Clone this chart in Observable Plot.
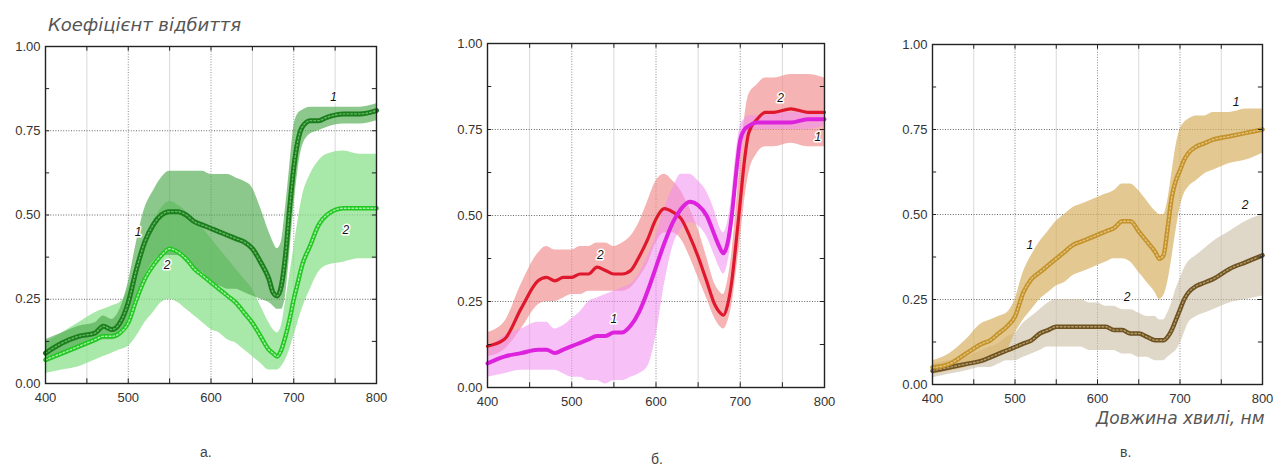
<!DOCTYPE html>
<html><head><meta charset="utf-8">
<script src="https://cdn.jsdelivr.net/npm/d3@7"></script>
<script src="https://cdn.jsdelivr.net/npm/@observablehq/plot@0.6"></script>
<style>
body{margin:0;background:#fff;}
#wrap{position:relative;width:1284px;height:467px;overflow:hidden;background:#fff;font-family:"Liberation Sans",Arial,sans-serif;}
.panel{position:absolute;top:0;}
.lbl{position:absolute;color:#444;white-space:nowrap;line-height:1;}
.ttl{font-family:"DejaVu Sans",sans-serif;font-style:italic;color:#555;}
</style></head><body><div id="wrap"></div>
<script>
// wavelength grid (nm)
const wl = [400,420,440,460,470,480,490,500,510,520,530,540,550,560,570,580,590,600,610,620,630,640,650,660,670,675,680,685,690,695,700,705,710,720,730,740,760,780,800];

// panel а
const a1Mean = [.09,.12,.14,.15,.17,.16,.18,.24,.34,.42,.47,.50,.51,.51,.50,.48,.47,.46,.45,.44,.43,.42,.40,.36,.31,.27,.26,.29,.38,.52,.64,.72,.76,.78,.78,.79,.80,.80,.81];
const a1Lo   = [.06,.08,.10,.12,.13,.13,.14,.19,.26,.32,.36,.38,.38,.38,.36,.34,.33,.30,.29,.28,.28,.27,.26,.25,.24,.23,.22,.22,.26,.38,.52,.63,.70,.74,.75,.76,.77,.77,.78];
const a1Hi   = [.13,.15,.17,.18,.20,.19,.22,.30,.42,.52,.57,.61,.63,.63,.63,.63,.63,.62,.62,.62,.61,.60,.58,.52,.45,.42,.40,.42,.52,.64,.76,.80,.81,.82,.82,.82,.82,.82,.83];
const a2Mean = [.07,.09,.11,.13,.14,.14,.15,.18,.25,.31,.35,.38,.40,.39,.37,.34,.32,.30,.28,.26,.24,.21,.18,.14,.10,.09,.08,.10,.14,.19,.25,.30,.35,.41,.47,.50,.52,.52,.52];
const a2Lo   = [.03,.04,.05,.07,.08,.09,.10,.11,.14,.18,.21,.24,.25,.24,.22,.20,.18,.16,.15,.13,.12,.10,.08,.06,.04,.04,.04,.05,.07,.10,.14,.18,.22,.28,.33,.35,.36,.37,.37];
const a2Hi   = [.12,.15,.18,.21,.22,.23,.24,.28,.35,.42,.48,.52,.54,.53,.51,.48,.46,.43,.40,.37,.34,.31,.28,.23,.18,.16,.15,.17,.24,.32,.40,.48,.55,.62,.66,.68,.69,.68,.68];

// panel б
const b1Mean = [.07,.09,.10,.11,.11,.10,.11,.12,.13,.14,.15,.15,.16,.16,.18,.22,.28,.35,.42,.48,.52,.54,.53,.50,.44,.41,.39,.42,.50,.62,.72,.75,.76,.77,.77,.77,.77,.78,.78];
const b1Lo   = [.03,.04,.05,.05,.05,.05,.04,.03,.03,.02,.02,.01,.02,.02,.03,.04,.06,.15,.30,.41,.46,.48,.47,.44,.38,.35,.33,.36,.44,.56,.67,.72,.74,.75,.75,.75,.75,.75,.76];
const b1Hi   = [.11,.15,.17,.19,.19,.17,.18,.20,.22,.25,.26,.27,.28,.29,.30,.33,.38,.44,.52,.58,.62,.62,.60,.57,.51,.47,.45,.48,.56,.68,.76,.78,.79,.79,.79,.80,.80,.80,.80];
const b2Mean = [.12,.14,.23,.31,.32,.31,.32,.32,.33,.33,.35,.34,.33,.33,.34,.38,.43,.49,.52,.51,.49,.44,.38,.31,.24,.22,.21,.24,.31,.42,.54,.66,.74,.78,.80,.80,.81,.80,.80];
const b2Lo   = [.09,.11,.17,.24,.25,.25,.26,.27,.27,.28,.28,.28,.28,.28,.29,.32,.36,.42,.45,.45,.43,.38,.32,.26,.20,.18,.17,.19,.24,.33,.43,.54,.62,.68,.70,.70,.71,.70,.70];
const b2Hi   = [.16,.19,.30,.39,.41,.40,.40,.40,.41,.41,.42,.42,.41,.42,.44,.48,.54,.60,.62,.60,.57,.52,.46,.38,.30,.28,.27,.31,.39,.52,.66,.78,.85,.88,.90,.90,.91,.91,.90];

// panel в
const c1Mean = [.05,.06,.09,.12,.13,.15,.17,.20,.27,.31,.33,.35,.37,.39,.41,.42,.43,.44,.45,.46,.48,.48,.45,.42,.39,.37,.38,.46,.55,.60,.63,.66,.68,.70,.71,.72,.73,.74,.75];
const c1Lo   = [.03,.04,.05,.07,.08,.09,.10,.15,.19,.22,.25,.27,.29,.30,.32,.33,.34,.35,.36,.37,.37,.36,.33,.30,.27,.25,.26,.30,.37,.45,.52,.56,.58,.60,.62,.63,.65,.66,.68];
const c1Hi   = [.07,.09,.13,.18,.19,.20,.21,.25,.33,.38,.42,.45,.48,.50,.52,.53,.54,.55,.56,.57,.59,.59,.57,.54,.51,.50,.50,.54,.62,.70,.75,.77,.78,.79,.79,.80,.80,.81,.81];
const c2Mean = [.04,.05,.06,.07,.08,.09,.10,.11,.12,.13,.15,.16,.17,.17,.17,.17,.17,.17,.17,.16,.16,.15,.15,.14,.13,.13,.13,.14,.16,.19,.22,.25,.27,.29,.30,.31,.34,.36,.38];
const c2Lo   = [.02,.03,.04,.05,.05,.06,.07,.07,.08,.09,.10,.11,.11,.11,.11,.11,.10,.10,.10,.10,.09,.09,.08,.08,.07,.07,.07,.08,.09,.10,.12,.15,.18,.20,.21,.22,.24,.25,.26];
const c2Hi   = [.06,.07,.08,.10,.11,.12,.14,.15,.18,.20,.22,.24,.25,.25,.25,.25,.24,.24,.23,.23,.22,.22,.21,.20,.20,.19,.19,.21,.24,.28,.31,.34,.36,.38,.40,.42,.45,.48,.50];

// curve number labels (wavelength, reflectance, text)
const labA = [{x:748,y:.85,t:"1"},{x:512,y:.45,t:"1"},{x:547,y:.35,t:"2"},{x:763,y:.455,t:"2"}];
const labB = [{x:748,y:.84,t:"2"},{x:792,y:.727,t:"1"},{x:534,y:.384,t:"2"},{x:550,y:.20,t:"1"}];
const labC = [{x:768,y:.83,t:"1"},{x:779,y:.527,t:"2"},{x:518,y:.41,t:"1"},{x:636,y:.256,t:"2"}];

const xTicks = [400,500,600,700,800];
const yTicks = [0,0.25,0.5,0.75,1];
const panelLetters = ["а.","б.","в."];
const yTitle = "Коефіцієнт відбиття";
const xTitle = "Довжина хвилі, нм";

function rows(m, lo, hi){ return wl.map((w,i)=>({wl:w, m:m[i], lo:lo[i], hi:hi[i]})); }

function panel(cfg){
  const minor = d3.range(400, 801, 50);
  const yminor = d3.range(0, 1.0001, 0.125);
  const curve = "monotone-x";
  const marks = [
    Plot.ruleX([450,550,650,750], {stroke:"#d9d9d9", strokeWidth:1}),
    Plot.ruleX([500,600,700], {stroke:"#8a8a8a", strokeWidth:1, strokeDasharray:"1,1.6"}),
    Plot.ruleY([0.25,0.5,0.75], {stroke:"#666", strokeWidth:1, strokeDasharray:"1,1.6"})
  ];
  for (const s of cfg.series) {
    marks.push(Plot.areaY(s.data, {x:"wl", y1:"lo", y2:"hi", fill:s.band, fillOpacity:s.bandOp, curve}));
  }
  for (const s of cfg.series) {
    marks.push(Plot.line(s.data, {x:"wl", y:"m", stroke:s.line, strokeWidth:s.w, curve}));
    if (s.inner) marks.push(Plot.line(s.data, {x:"wl", y:"m", stroke:s.inner, strokeWidth:1.4, strokeDasharray:"1.6,2.2", curve}));
  }
  marks.push(
    Plot.frame({stroke:"#222", strokeWidth:1.4}),
    Plot.ruleX(minor, {y1:0, y2:0.014, stroke:"#222"}),
    Plot.ruleX(minor, {y1:0.986, y2:1, stroke:"#222"}),
    Plot.ruleY(yminor, {x1:400, x2:405, stroke:"#222"}),
    Plot.ruleY(yminor, {x1:795, x2:800, stroke:"#222"}),
    Plot.axisX({ticks:xTicks, tickSize:0, tickPadding:9, label:null, fontSize:13}),
    Plot.axisY({ticks:yTicks, tickSize:0, tickPadding:5, label:null, fontSize:13, tickFormat:d3.format(".2f")}),
    Plot.text(cfg.labels, {x:"x", y:"y", text:"t", fontStyle:"italic", fontSize:12, fill:"#111", stroke:"white", strokeWidth:3, paintOrder:"stroke"})
  );
  return Plot.plot({
    width:cfg.width, height:cfg.height,
    marginLeft:cfg.ml, marginRight:cfg.mr, marginTop:cfg.mt, marginBottom:cfg.mb,
    x:{domain:[400,800]}, y:{domain:[0,1]},
    style:{fontFamily:"Liberation Sans, Arial, sans-serif", color:"#333", background:"transparent", overflow:"visible"},
    marks
  });
}

const wrap = document.getElementById("wrap");
function place(node, left){ const d=document.createElement("div"); d.className="panel"; d.style.left=left+"px"; d.appendChild(node); wrap.appendChild(d); }

place(panel({width:400,height:410,ml:45,mr:24,mt:46,mb:27,labels:labA,series:[
  {data:rows(a2Mean,a2Lo,a2Hi), band:"#8be08b", bandOp:0.75, line:"#22c822", w:4.5, inner:"#a8f0a8"},
  {data:rows(a1Mean,a1Lo,a1Hi), band:"#4faa4f", bandOp:0.65, line:"#1b7d1b", w:5, inner:"#62b862"}
]}), 0);

place(panel({width:410,height:415,ml:47,mr:26,mt:43,mb:28,labels:labB,series:[
  {data:rows(b2Mean,b2Lo,b2Hi), band:"#f08a8a", bandOp:0.65, line:"#e0182e", w:3.2},
  {data:rows(b1Mean,b1Lo,b1Hi), band:"#f08cf0", bandOp:0.55, line:"#dd22dd", w:4}
]}), 440);

place(panel({width:394,height:410,ml:42,mr:22,mt:44,mb:26,labels:labC,series:[
  {data:rows(c2Mean,c2Lo,c2Hi), band:"#c9bca2", bandOp:0.6, line:"#6e5220", w:4.5, inner:"#b09a6a"},
  {data:rows(c1Mean,c1Lo,c1Hi), band:"#d9b064", bandOp:0.7, line:"#c4922a", w:4.5, inner:"#e2c47e"}
]}), 890);

function label(text, left, top, size, cls){ const d=document.createElement("div"); d.className="lbl "+(cls||""); d.textContent=text; d.style.left=left+"px"; d.style.top=top+"px"; d.style.fontSize=size+"px"; wrap.appendChild(d); }
label(yTitle, 48, 16, 18, "ttl");
label(xTitle, 1096, 410, 17, "ttl");
label(panelLetters[0], 200, 445, 14);
label(panelLetters[1], 651, 452, 14);
label(panelLetters[2], 1120, 445, 14);
</script></body></html>
